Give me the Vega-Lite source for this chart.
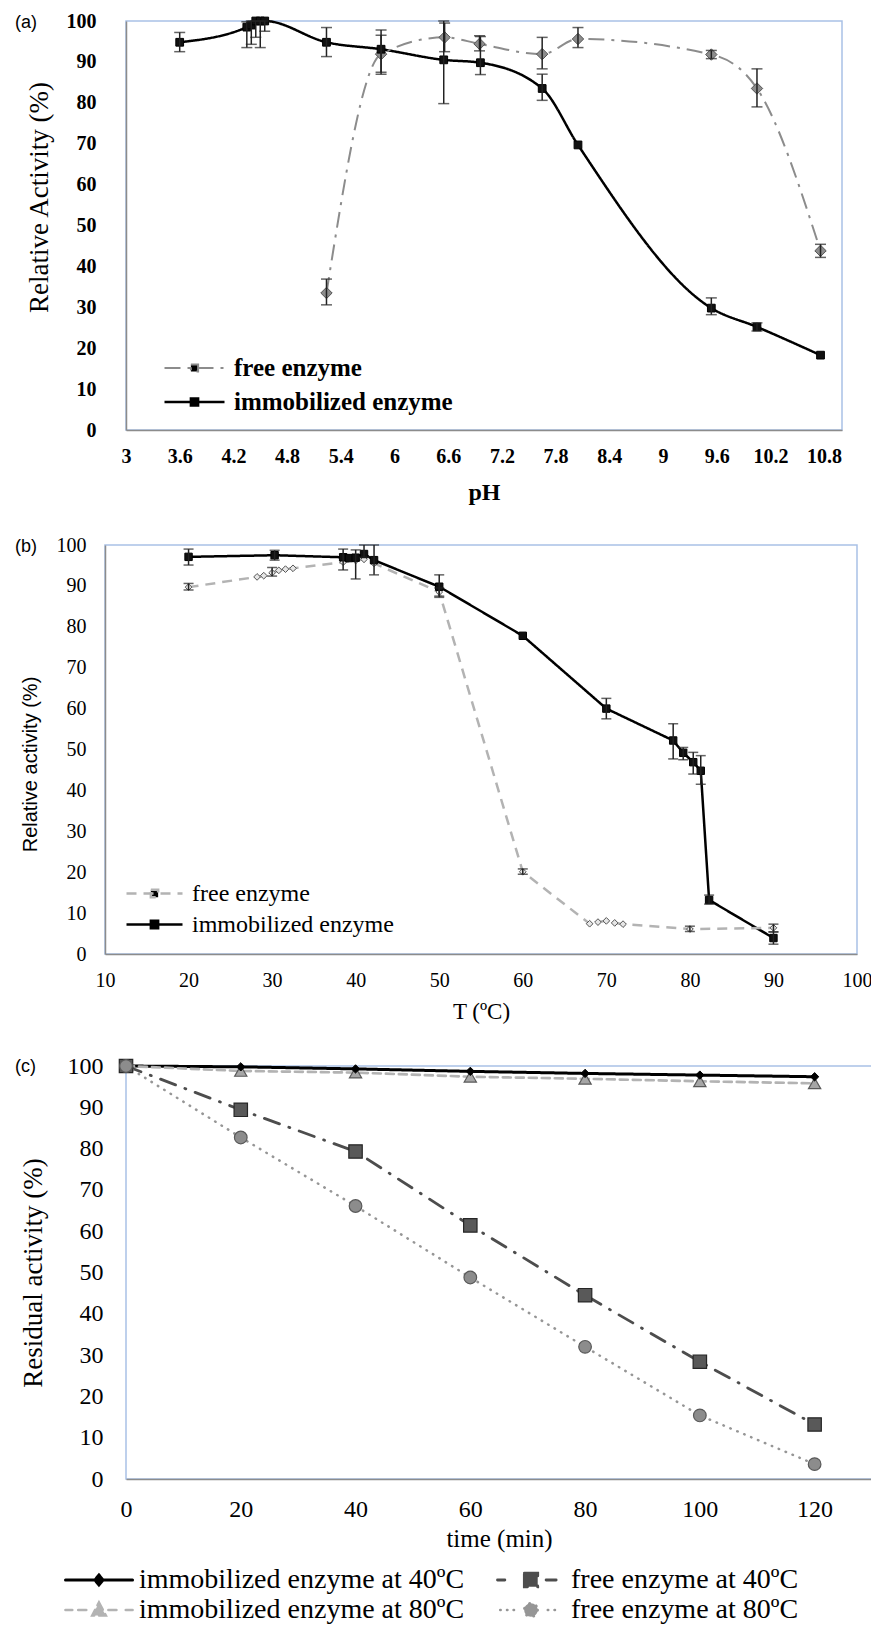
{
  "$schema": "https://vega.github.io/schema/vega-lite/v6.json",
  "padding": {"left": 11, "top": 10, "right": 0, "bottom": 0},
  "background": "white",
  "spacing": 29,
  "datasets": {
    "s": [{"k": 0}],
    "a": [
      {"series": "immobilized enzyme", "x": 3.6, "y": 94.8, "lo": 92.5, "hi": 97.2},
      {"series": "immobilized enzyme", "x": 4.35, "y": 98.5, "lo": 93.5, "hi": 99.8},
      {"series": "immobilized enzyme", "x": 4.4, "y": 99, "lo": 94.3, "hi": 100},
      {"series": "immobilized enzyme", "x": 4.45, "y": 100, "lo": 96, "hi": 100},
      {"series": "immobilized enzyme", "x": 4.5, "y": 100, "lo": 93.5, "hi": 100},
      {"series": "immobilized enzyme", "x": 4.55, "y": 100, "lo": 97.5, "hi": 100},
      {"series": "immobilized enzyme", "x": 5.24, "y": 94.8, "lo": 91.3, "hi": 98.4},
      {"series": "immobilized enzyme", "x": 5.85, "y": 93.1, "lo": 87, "hi": 97.8},
      {"series": "immobilized enzyme", "x": 6.55, "y": 90.5, "lo": 79.8, "hi": 100},
      {"series": "immobilized enzyme", "x": 6.96, "y": 89.8, "lo": 86.9, "hi": 96.2},
      {"series": "immobilized enzyme", "x": 7.65, "y": 83.5, "lo": 80.6, "hi": 87},
      {"series": "immobilized enzyme", "x": 8.05, "y": 69.7},
      {"series": "immobilized enzyme", "x": 9.54, "y": 29.8, "lo": 28.2, "hi": 32.3},
      {"series": "immobilized enzyme", "x": 10.05, "y": 25.2, "lo": 24.2, "hi": 26.2},
      {"series": "immobilized enzyme", "x": 10.76, "y": 18.3},
      {"series": "free enzyme", "x": 5.24, "y": 33.5, "lo": 30.6, "hi": 36.9},
      {"series": "free enzyme", "x": 5.85, "y": 91.9, "lo": 87.5, "hi": 96.5},
      {"series": "free enzyme", "x": 6.56, "y": 96, "lo": 92.5, "hi": 99.5},
      {"series": "free enzyme", "x": 6.95, "y": 94.4, "lo": 92.7, "hi": 96.4},
      {"series": "free enzyme", "x": 7.65, "y": 91.9, "lo": 88.3, "hi": 96},
      {"series": "free enzyme", "x": 8.05, "y": 95.6, "lo": 93.5, "hi": 98.4},
      {"series": "free enzyme", "x": 9.54, "y": 91.8, "lo": 90.8, "hi": 92.8},
      {"series": "free enzyme", "x": 10.05, "y": 83.5, "lo": 79, "hi": 88.3},
      {"series": "free enzyme", "x": 10.76, "y": 43.8, "lo": 42.2, "hi": 45.4}
    ],
    "b": [
      {"series": "immobilized enzyme", "x": 20, "y": 97.1, "lo": 95.1, "hi": 99},
      {"series": "immobilized enzyme", "x": 30.3, "y": 97.5, "lo": 96.3, "hi": 98.7},
      {"series": "immobilized enzyme", "x": 38.5, "y": 97, "lo": 93.9, "hi": 99},
      {"series": "immobilized enzyme", "x": 39.2, "y": 96.8},
      {"series": "immobilized enzyme", "x": 40, "y": 96.9, "lo": 91.7, "hi": 98.8},
      {"series": "immobilized enzyme", "x": 41, "y": 97.8, "lo": 97, "hi": 100},
      {"series": "immobilized enzyme", "x": 42.2, "y": 96.3, "lo": 92.7, "hi": 100},
      {"series": "immobilized enzyme", "x": 50, "y": 89.8, "lo": 87.2, "hi": 92.7},
      {"series": "immobilized enzyme", "x": 60, "y": 77.8},
      {"series": "immobilized enzyme", "x": 70, "y": 60, "lo": 57.5, "hi": 62.5},
      {"series": "immobilized enzyme", "x": 78, "y": 52.2, "lo": 47.7, "hi": 56.3},
      {"series": "immobilized enzyme", "x": 79.2, "y": 49.2, "lo": 47.5, "hi": 50.5},
      {"series": "immobilized enzyme", "x": 80.4, "y": 46.9, "lo": 44, "hi": 49.3},
      {"series": "immobilized enzyme", "x": 81.3, "y": 44.8, "lo": 41.5, "hi": 48.5},
      {"series": "immobilized enzyme", "x": 82.3, "y": 13.2, "lo": 12.2, "hi": 14.4},
      {"series": "immobilized enzyme", "x": 90, "y": 3.9, "lo": 2.4, "hi": 5.4},
      {"series": "free enzyme", "x": 20, "y": 89.7, "lo": 89, "hi": 90.6},
      {"series": "free enzyme", "x": 28.2, "y": 92.2},
      {"series": "free enzyme", "x": 29, "y": 92.5},
      {"series": "free enzyme", "x": 30, "y": 93.2, "lo": 92.4, "hi": 94.5},
      {"series": "free enzyme", "x": 30.8, "y": 93.8},
      {"series": "free enzyme", "x": 31.6, "y": 94.1},
      {"series": "free enzyme", "x": 32.5, "y": 94.3},
      {"series": "free enzyme", "x": 38.5, "y": 95.8},
      {"series": "free enzyme", "x": 40, "y": 96.2},
      {"series": "free enzyme", "x": 41, "y": 96.5},
      {"series": "free enzyme", "x": 42.2, "y": 95.5},
      {"series": "free enzyme", "x": 50, "y": 88.5, "lo": 87.5, "hi": 89.5},
      {"series": "free enzyme", "x": 60, "y": 20.1, "lo": 19.5, "hi": 20.8},
      {"series": "free enzyme", "x": 68, "y": 7.4},
      {"series": "free enzyme", "x": 69, "y": 7.8},
      {"series": "free enzyme", "x": 70, "y": 8.1},
      {"series": "free enzyme", "x": 71, "y": 7.6},
      {"series": "free enzyme", "x": 72, "y": 7.3},
      {"series": "free enzyme", "x": 80, "y": 6.1, "lo": 5.5, "hi": 6.8},
      {"series": "free enzyme", "x": 90, "y": 6.4, "lo": 5.4, "hi": 7.3}
    ],
    "c": [
      {"series": "immobilized enzyme at 40ºC", "x": 0, "y": 100},
      {"series": "immobilized enzyme at 40ºC", "x": 20, "y": 99.8},
      {"series": "immobilized enzyme at 40ºC", "x": 40, "y": 99.3},
      {"series": "immobilized enzyme at 40ºC", "x": 60, "y": 98.7},
      {"series": "immobilized enzyme at 40ºC", "x": 80, "y": 98.2},
      {"series": "immobilized enzyme at 40ºC", "x": 100, "y": 97.8},
      {"series": "immobilized enzyme at 40ºC", "x": 120, "y": 97.4},
      {"series": "immobilized enzyme at 80ºC", "x": 0, "y": 100},
      {"series": "immobilized enzyme at 80ºC", "x": 20, "y": 98.8},
      {"series": "immobilized enzyme at 80ºC", "x": 40, "y": 98.4},
      {"series": "immobilized enzyme at 80ºC", "x": 60, "y": 97.4},
      {"series": "immobilized enzyme at 80ºC", "x": 80, "y": 96.9},
      {"series": "immobilized enzyme at 80ºC", "x": 100, "y": 96.3},
      {"series": "immobilized enzyme at 80ºC", "x": 120, "y": 95.8},
      {"series": "free enzyme at 40ºC", "x": 0, "y": 100},
      {"series": "free enzyme at 40ºC", "x": 20, "y": 89.4},
      {"series": "free enzyme at 40ºC", "x": 40, "y": 79.3},
      {"series": "free enzyme at 40ºC", "x": 60, "y": 61.4},
      {"series": "free enzyme at 40ºC", "x": 80, "y": 44.5},
      {"series": "free enzyme at 40ºC", "x": 100, "y": 28.4},
      {"series": "free enzyme at 40ºC", "x": 120, "y": 13.2},
      {"series": "free enzyme at 80ºC", "x": 0, "y": 100},
      {"series": "free enzyme at 80ºC", "x": 20, "y": 82.7},
      {"series": "free enzyme at 80ºC", "x": 40, "y": 66.1},
      {"series": "free enzyme at 80ºC", "x": 60, "y": 48.8},
      {"series": "free enzyme at 80ºC", "x": 80, "y": 32},
      {"series": "free enzyme at 80ºC", "x": 100, "y": 15.4},
      {"series": "free enzyme at 80ºC", "x": 120, "y": 3.6}
    ]
  },
  "resolve": {
    "scale": {"color": "independent", "strokeDash": "independent", "strokeWidth": "independent", "shape": "independent", "stroke": "independent"},
    "legend": {"color": "independent", "shape": "independent", "stroke": "independent", "strokeWidth": "independent"}
  },
  "vconcat": [
    {"spacing": 0,
     "resolve": {"scale": {"color": "independent", "strokeDash": "independent", "strokeWidth": "independent"}, "legend": {"color": "independent"}},
     "hconcat": [
    {"data": {"name": "s"}, "mark": {"type": "point", "opacity": 0, "size": 1}, "width": 1, "height": 1, "view": {"stroke": "transparent"}},
    {
      "width": 716,
      "height": 409,
      "data": {"name": "a"},
      "title": {"text": "(a)", "anchor": "start", "frame": "group", "orient": "top", "dx": -111, "dy": 21, "offset": 0, "font": "Liberation Sans", "fontSize": 18, "fontWeight": "normal", "color": "#000"},
      "encoding": {
        "x": {"field": "x", "type": "quantitative", "scale": {"domain": [3, 11], "nice": false, "zero": false},
          "axis": {"values": [3, 3.6, 4.2, 4.8, 5.4, 6, 6.6, 7.2, 7.8, 8.4, 9, 9.6, 10.2, 10.8], "format": "~g", "title": "pH", "labelFontSize": 20, "labelFontWeight": "bold", "titleFontSize": 24, "titleFontWeight": "bold", "labelPadding": 16, "titlePadding": 14, "labelFlush": false, "labelOverlap": false}},
        "y": {"field": "y", "type": "quantitative", "scale": {"domain": [0, 100], "nice": false},
          "axis": {"values": [0, 10, 20, 30, 40, 50, 60, 70, 80, 90, 100], "title": "Relative Activity (%)", "labelFontSize": 20, "labelFontWeight": "bold", "titleFontSize": 27, "labelPadding": 30, "titleX": -87, "titleY": 176, "titleBaseline": "middle"}}
      },
      "layer": [
        {
          "mark": {"type": "line", "interpolate": "monotone"},
          "encoding": {
            "color": {"field": "series", "type": "nominal", "scale": {"domain": ["free enzyme", "immobilized enzyme"], "range": ["#8c8c8c", "#000000"]},
              "legend": {"orient": "none", "legendX": 37, "legendY": 330, "title": null, "symbolSize": 3600, "clipHeight": 34, "rowPadding": 0, "labelOffset": 8, "labelFont": "Liberation Serif", "labelFontSize": 25, "labelFontWeight": "bold", "labelColor": "#000", "labelLimit": 1000, "padding": 0,
                "encode": {"symbols": {"update": {
                  "shape": {"condition": {"test": "datum.value === 'free enzyme'", "value": "M-1,0H-0.2M0.3,0H0.4M0.8,0H1M0,-0.2L0.2,0L0,0.2L-0.2,0Z"}, "value": "M-1,0H1M-0.12,-0.12H0.12V0.12H-0.12Z"},
                  "stroke": {"condition": {"test": "datum.value === 'free enzyme'", "value": "#808080"}, "value": "#000000"},
                  "fill": {"condition": {"test": "datum.value === 'free enzyme'", "value": "#8c8c8c"}, "value": "#000000"},
                  "strokeWidth": {"condition": {"test": "datum.value === 'free enzyme'", "value": 2}, "value": 3},
                  "strokeDash": {"value": [1, 0]},
                  "opacity": {"value": 1}
                }}}}},
            "strokeDash": {"field": "series", "type": "nominal", "scale": {"domain": ["free enzyme", "immobilized enzyme"], "range": [[16, 7, 3, 7], [1, 0]]}, "legend": null},
            "strokeWidth": {"field": "series", "type": "nominal", "scale": {"domain": ["free enzyme", "immobilized enzyme"], "range": [2, 2.5]}, "legend": null}
          }
        },
        {
          "transform": [{"filter": "datum.series === 'free enzyme'"}],
          "mark": {"type": "point", "shape": "diamond", "filled": true, "fill": "#8c8c8c", "stroke": "#555555", "strokeWidth": 1, "size": 130, "opacity": 1}
        },
        {
          "transform": [{"filter": "datum.series === 'immobilized enzyme'"}],
          "mark": {"type": "point", "shape": "square", "filled": true, "fill": "#111111", "stroke": "#000000", "strokeWidth": 1, "size": 60, "opacity": 1}
        },
        {
          "transform": [{"filter": "datum.lo != null"}],
          "mark": {"type": "rule", "color": "#222222", "strokeWidth": 1.5},
          "encoding": {"y": {"field": "lo", "type": "quantitative"}, "y2": {"field": "hi"}}
        },
        {
          "transform": [{"filter": "datum.lo != null"}],
          "mark": {"type": "tick", "orient": "horizontal", "color": "#222222", "size": 11, "thickness": 1.5},
          "encoding": {"y": {"field": "lo", "type": "quantitative"}}
        },
        {
          "transform": [{"filter": "datum.lo != null"}],
          "mark": {"type": "tick", "orient": "horizontal", "color": "#222222", "size": 11, "thickness": 1.5},
          "encoding": {"y": {"field": "hi", "type": "quantitative"}}
        }
      ]
    }]},
    {"spacing": 0,
     "resolve": {"scale": {"color": "independent", "strokeDash": "independent", "strokeWidth": "independent"}, "legend": {"color": "independent"}},
     "hconcat": [
    {"data": {"name": "s"}, "mark": {"type": "point", "opacity": 0, "size": 1}, "width": 1, "height": 1, "view": {"stroke": "transparent"}},
    {
      "width": 752,
      "height": 409,
      "data": {"name": "b"},
      "title": {"text": "(b)", "anchor": "start", "frame": "group", "orient": "top", "dx": -90, "dy": 21, "offset": 0, "font": "Liberation Sans", "fontSize": 18, "fontWeight": "normal", "color": "#000"},
      "encoding": {
        "x": {"field": "x", "type": "quantitative", "scale": {"domain": [10, 100], "nice": false, "zero": false},
          "axis": {"values": [10, 20, 30, 40, 50, 60, 70, 80, 90, 100], "title": "T (ºC)", "labelFontSize": 20, "titleFontSize": 23, "labelPadding": 16, "titlePadding": 10, "labelFlush": false, "labelOverlap": false}},
        "y": {"field": "y", "type": "quantitative", "scale": {"domain": [0, 100], "nice": false},
          "axis": {"values": [0, 10, 20, 30, 40, 50, 60, 70, 80, 90, 100], "title": "Relative activity (%)", "titleFont": "Liberation Sans", "labelFontSize": 20, "titleFontSize": 20, "labelPadding": 19, "titleX": -75, "titleY": 219, "titleBaseline": "middle"}}
      },
      "layer": [
        {
          "mark": {"type": "line"},
          "encoding": {
            "color": {"field": "series", "type": "nominal", "scale": {"domain": ["free enzyme", "immobilized enzyme"], "range": ["#b3b3b3", "#000000"]},
              "legend": {"orient": "none", "legendX": 20, "legendY": 333, "title": null, "symbolSize": 3136, "clipHeight": 31, "rowPadding": 0, "labelOffset": 8, "labelFont": "Liberation Serif", "labelFontSize": 24, "labelColor": "#000", "labelLimit": 1000, "padding": 0,
                "encode": {"symbols": {"update": {
                  "shape": {"condition": {"test": "datum.value === 'free enzyme'", "value": "M-1,0H-0.62M-0.4,0H-0.18M0.2,0H0.42M0.64,0H1M0,-0.14L0.12,0L0,0.14L-0.12,0Z"}, "value": "M-1,0H1M-0.13,-0.13H0.13V0.13H-0.13Z"},
                  "stroke": {"condition": {"test": "datum.value === 'free enzyme'", "value": "#aaaaaa"}, "value": "#000000"},
                  "fill": {"condition": {"test": "datum.value === 'free enzyme'", "value": "#dddddd"}, "value": "#000000"},
                  "strokeWidth": {"condition": {"test": "datum.value === 'free enzyme'", "value": 2.5}, "value": 3},
                  "strokeDash": {"value": [1, 0]},
                  "opacity": {"value": 1}
                }}}}},
            "strokeDash": {"field": "series", "type": "nominal", "scale": {"domain": ["free enzyme", "immobilized enzyme"], "range": [[10, 7], [1, 0]]}, "legend": null},
            "strokeWidth": {"field": "series", "type": "nominal", "scale": {"domain": ["free enzyme", "immobilized enzyme"], "range": [2.5, 2.5]}, "legend": null}
          }
        },
        {
          "transform": [{"filter": "datum.series === 'free enzyme'"}],
          "mark": {"type": "point", "shape": "diamond", "filled": true, "fill": "#e6e6e6", "stroke": "#555555", "strokeWidth": 1, "size": 45, "opacity": 1}
        },
        {
          "transform": [{"filter": "datum.series === 'immobilized enzyme'"}],
          "mark": {"type": "point", "shape": "square", "filled": true, "fill": "#111111", "stroke": "#000000", "strokeWidth": 1, "size": 55, "opacity": 1}
        },
        {
          "transform": [{"filter": "datum.lo != null"}],
          "mark": {"type": "rule", "color": "#222222", "strokeWidth": 1.5},
          "encoding": {"y": {"field": "lo", "type": "quantitative"}, "y2": {"field": "hi"}}
        },
        {
          "transform": [{"filter": "datum.lo != null"}],
          "mark": {"type": "tick", "orient": "horizontal", "color": "#222222", "size": 10, "thickness": 1.5},
          "encoding": {"y": {"field": "lo", "type": "quantitative"}}
        },
        {
          "transform": [{"filter": "datum.lo != null"}],
          "mark": {"type": "tick", "orient": "horizontal", "color": "#222222", "size": 10, "thickness": 1.5},
          "encoding": {"y": {"field": "hi", "type": "quantitative"}}
        }
      ]
    }]},
    {"spacing": 0,
     "resolve": {"scale": {"color": "independent", "strokeDash": "independent", "strokeWidth": "independent", "shape": "independent", "stroke": "independent"}, "legend": {"color": "independent", "shape": "independent", "stroke": "independent", "strokeWidth": "independent"}},
     "hconcat": [
    {"data": {"name": "s"}, "mark": {"type": "point", "opacity": 0, "size": 1}, "width": 1, "height": 1, "view": {"stroke": "transparent"}},
    {
      "width": 746,
      "height": 413,
      "data": {"name": "c"},
      "title": {"text": "(c)", "anchor": "start", "frame": "group", "orient": "top", "dx": -111, "dy": 22, "offset": 0, "font": "Liberation Sans", "fontSize": 18, "fontWeight": "normal", "color": "#000"},
      "encoding": {
        "x": {"field": "x", "type": "quantitative", "scale": {"domain": [0, 130], "nice": false, "zero": false},
          "axis": {"values": [0, 20, 40, 60, 80, 100, 120], "title": "time (min)", "labelFontSize": 24, "titleFontSize": 25, "labelPadding": 18, "titlePadding": 5, "labelFlush": false, "labelOverlap": false}},
        "y": {"field": "y", "type": "quantitative", "scale": {"domain": [0, 100], "nice": false},
          "axis": {"values": [0, 10, 20, 30, 40, 50, 60, 70, 80, 90, 100], "title": "Residual activity (%)", "labelFontSize": 24, "titleFontSize": 27, "labelPadding": 23, "titleX": -93, "titleBaseline": "middle", "domain": false}}
      },
      "layer": [
        {
          "mark": {"type": "line", "strokeCap": "round"},
          "encoding": {
            "color": {"field": "series", "type": "nominal", "scale": {"domain": ["immobilized enzyme at 40ºC", "free enzyme at 40ºC", "immobilized enzyme at 80ºC", "free enzyme at 80ºC"], "range": ["#000000", "#4d4d4d", "#b3b3b3", "#969696"]},
              "legend": {"orient": "none", "legendX": -62, "legendY": 499, "columns": 2, "direction": "horizontal", "columnPadding": 31, "title": null, "symbolSize": 900, "clipHeight": 30, "rowPadding": 0, "labelOffset": 42, "labelFont": "Liberation Serif", "labelFontSize": 28, "labelColor": "#000", "labelLimit": 1000, "padding": 0,
                "encode": {"symbols": {"update": {
                  "strokeCap": {"value": "round"},
                  "strokeDash": {"value": [1, 0]},
                  "opacity": {"value": 1}
                }}}}},
            "strokeDash": {"field": "series", "type": "nominal", "scale": {"domain": ["immobilized enzyme at 40ºC", "free enzyme at 40ºC", "immobilized enzyme at 80ºC", "free enzyme at 80ºC"], "range": [[1, 0], [16, 10, 1, 10], [8, 5], [0.5, 7]]}, "legend": null},
            "strokeWidth": {"field": "series", "type": "nominal", "scale": {"domain": ["immobilized enzyme at 40ºC", "free enzyme at 40ºC", "immobilized enzyme at 80ºC", "free enzyme at 80ºC"], "range": [3, 2.5, 2.5, 4]}}
          }
        },
        {
          "mark": {"type": "point", "filled": true, "opacity": 0},
          "encoding": {
            "color": {"field": "series", "type": "nominal"},
            "shape": {"field": "series", "type": "nominal", "scale": {"domain": ["immobilized enzyme at 40ºC", "free enzyme at 40ºC", "immobilized enzyme at 80ºC", "free enzyme at 80ºC"], "range": ["M-1,0H3.47M1.23,-0.33L1.5,0L1.23,0.33L0.96,0Z", "M-1,0H-0.51M2.24,0H2.91M0.79,-0.45H1.68V0.45H0.79Z", "M-1,0H-0.55M-0.15,0H0.61M1.86,0H2.62M3.02,0H3.47M1.23,-0.49L1.68,0.36L0.79,0.36Z", "M-0.82,0H-0.78M-0.37,0H-0.33M0.07,0H0.12M2.35,0H2.39M2.8,0H2.84M1.68,0A0.45,0.45 0 1 1 0.78,0A0.45,0.45 0 1 1 1.68,0Z"]}},
            "stroke": {"field": "series", "type": "nominal", "scale": {"domain": ["immobilized enzyme at 40ºC", "free enzyme at 40ºC", "immobilized enzyme at 80ºC", "free enzyme at 80ºC"], "range": ["#000000", "#333333", "#a0a0a0", "#7a7a7a"]}},
            "strokeWidth": {"field": "series", "type": "nominal"}
          }
        },
        {
          "transform": [{"filter": "datum.series === 'immobilized enzyme at 80ºC'"}],
          "mark": {"type": "point", "shape": "triangle-up", "filled": true, "fill": "#a6a6a6", "stroke": "#595959", "strokeWidth": 1.2, "size": 150, "opacity": 1}
        },
        {
          "transform": [{"filter": "datum.series === 'immobilized enzyme at 40ºC'"}],
          "mark": {"type": "point", "shape": "diamond", "filled": true, "fill": "#000000", "stroke": "#000000", "strokeWidth": 1, "size": 70, "opacity": 1}
        },
        {
          "transform": [{"filter": "datum.series === 'free enzyme at 40ºC'"}],
          "mark": {"type": "point", "shape": "square", "filled": true, "fill": "#595959", "stroke": "#262626", "strokeWidth": 1.2, "size": 180, "opacity": 1}
        },
        {
          "transform": [{"filter": "datum.series === 'free enzyme at 80ºC'"}],
          "mark": {"type": "point", "shape": "circle", "filled": true, "fill": "#8c8c8c", "stroke": "#595959", "strokeWidth": 1.2, "size": 160, "opacity": 1}
        }
      ]
    }]}
  ],
  "config": {
    "view": {"stroke": "#a9c1e6", "strokeWidth": 1.5},
    "axis": {"grid": false, "ticks": false, "domainColor": "#8c8c8c", "domainWidth": 1.5, "labelFont": "Liberation Serif", "titleFont": "Liberation Serif", "labelColor": "#000000", "titleColor": "#000000", "titleFontWeight": "normal"}
  }
}
